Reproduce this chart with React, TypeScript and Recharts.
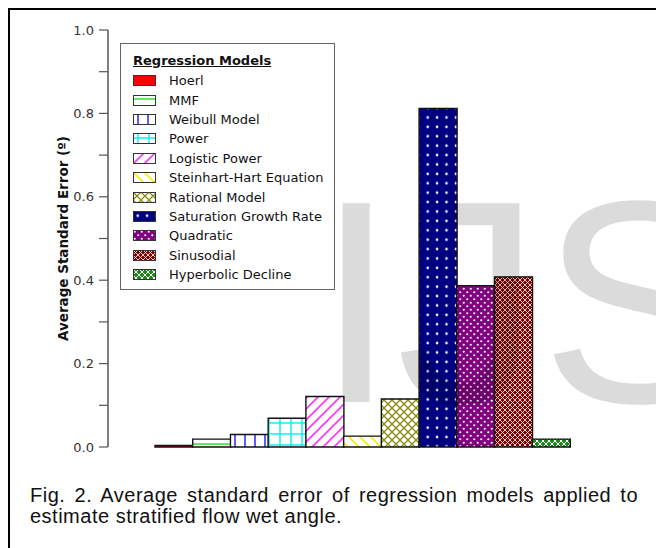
import React from "react";
import { BarChart, Bar, Cell, XAxis, YAxis, Legend } from "recharts";

// ─── Data ───────────────────────────────────────────────
const models = [
  "Hoerl",
  "MMF",
  "Weibull Model",
  "Power",
  "Logistic Power",
  "Steinhart-Hart Equation",
  "Rational Model",
  "Saturation Growth Rate",
  "Quadratic",
  "Sinusodial",
  "Hyperbolic Decline",
];
const avgStdError = [0.004, 0.019, 0.03, 0.069, 0.121, 0.026, 0.115, 0.812, 0.387, 0.408, 0.019];
const yTicks = [0, 0.1, 0.2, 0.3, 0.4, 0.5, 0.6, 0.7, 0.8, 0.9, 1.0];

const legendTitle = "Regression Models";
const yTitle = "Average Standard Error (º)";
const caption = "Fig. 2. Average standard error of regression models applied to estimate stratified flow wet angle.";

const data = models.map((name, i) => ({ name, value: avgStdError[i] }));

const FONT = "'DejaVu Sans', Verdana, sans-serif";
const SERIF_FREE = "'Liberation Sans', Arial, sans-serif";

// ─── Hatch patterns ─────────────────────────────────────
function Patterns() {
  return (
    <defs>
      <pattern id="p0" patternUnits="userSpaceOnUse" width="8" height="8">
        <rect width="8" height="8" fill="#ff0000" />
      </pattern>
      <pattern id="p1" patternUnits="userSpaceOnUse" width="8" height="8">
        <rect width="8" height="8" fill="#fff" />
        <line x1="0" y1="4" x2="8" y2="4" stroke="#33e833" strokeWidth="1.6" />
      </pattern>
      <pattern id="p2" patternUnits="userSpaceOnUse" width="10" height="10">
        <rect width="10" height="10" fill="#fff" />
        <line x1="5" y1="0" x2="5" y2="10" stroke="#3333ff" strokeWidth="1.6" />
      </pattern>
      <pattern id="p3" patternUnits="userSpaceOnUse" width="11" height="11">
        <rect width="11" height="11" fill="#fff" />
        <line x1="5" y1="0" x2="5" y2="11" stroke="#00f0f0" strokeWidth="1.4" />
        <line x1="0" y1="5" x2="11" y2="5" stroke="#00f0f0" strokeWidth="1.4" />
      </pattern>
      <pattern id="p4" patternUnits="userSpaceOnUse" width="11" height="11">
        <rect width="11" height="11" fill="#fff" />
        <path d="M-2,13 L13,-2 M-2,2 L2,-2 M9,13 L13,9" stroke="#ff33ff" strokeWidth="1.6" />
      </pattern>
      <pattern id="p5" patternUnits="userSpaceOnUse" width="11" height="11">
        <rect width="11" height="11" fill="#fff" />
        <path d="M-2,-2 L13,13 M9,-2 L13,2 M-2,9 L2,13" stroke="#f5f000" strokeWidth="1.6" />
      </pattern>
      <pattern id="p6" patternUnits="userSpaceOnUse" width="8" height="8">
        <rect width="8" height="8" fill="#fff" />
        <path d="M-1,9 L9,-1 M-1,-1 L9,9" stroke="#8a8a10" strokeWidth="1.3" />
      </pattern>
      <pattern id="p7" patternUnits="userSpaceOnUse" width="9.4" height="9.4">
        <rect width="9.4" height="9.4" fill="#000080" />
        <circle cx="4.7" cy="4.7" r="1.3" fill="#fff" />
      </pattern>
      <pattern id="p8" patternUnits="userSpaceOnUse" width="7" height="7">
        <rect width="7" height="7" fill="#800080" />
        <circle cx="1.75" cy="1.75" r="1.1" fill="#fff" />
        <circle cx="5.25" cy="5.25" r="1.1" fill="#fff" />
      </pattern>
      <pattern id="p9" patternUnits="userSpaceOnUse" width="5" height="5">
        <rect width="5" height="5" fill="#800000" />
        <path d="M-1,6 L6,-1 M-1,-1 L6,6" stroke="#fff" strokeWidth="0.8" />
      </pattern>
      <pattern id="p10" patternUnits="userSpaceOnUse" width="6" height="6">
        <rect width="6" height="6" fill="#1a8a1a" />
        <path d="M-1,7 L7,-1 M-1,-1 L7,7" stroke="#fff" strokeWidth="1" />
      </pattern>
    </defs>
  );
}

// ─── Legend box ─────────────────────────────────────────
function ModelsLegend() {
  return (
    <div
      style={{
        width: 215,
        height: 247,
        border: "1.5px solid #666",
        background: "#fff",
        fontFamily: FONT,
        fontSize: 13,
        color: "#111",
        boxSizing: "border-box",
        paddingLeft: 12,
        paddingTop: 7,
      }}
    >
      <div style={{ fontWeight: "bold", textDecoration: "underline", height: 20, lineHeight: "19px" }}>
        {legendTitle}
      </div>
      {models.map((m, i) => (
        <div key={m} style={{ display: "flex", alignItems: "center", height: 19.4 }}>
          <svg width={23} height={11} style={{ marginRight: 13 }}>
            <rect x={0.5} y={0.5} width={22} height={10} fill={`url(#p${i})`} stroke="#333" strokeWidth={1} />
          </svg>
          <span>{m}</span>
        </div>
      ))}
    </div>
  );
}

// ─── Rotated Y title ────────────────────────────────────
function YTitle(props: any) {
  const vb = props.viewBox || {};
  const cx = vb.x + 15;
  const cy = vb.y + vb.height / 2;
  return (
    <text
      x={cx}
      y={cy}
      transform={`rotate(-90, ${cx}, ${cy})`}
      textAnchor="middle"
      dominantBaseline="central"
      fontFamily={FONT}
      fontSize={13.5}
      fontWeight="bold"
      fill="#111"
    >
      {yTitle}
    </text>
  );
}

export default function App() {
  return (
    <div
      style={{
        position: "absolute",
        left: 0,
        top: 0,
        width: 656,
        height: 548,
        overflow: "hidden",
        background: "#fff",
      }}
    >
      <div
        style={{
          position: "absolute",
          left: 8,
          top: 8,
          width: 700,
          height: 600,
          border: "2px solid #000",
        }}
      />
      <div style={{ position: "absolute", left: 0, top: 0 }}>
        <BarChart
          width={656}
          height={548}
          data={data}
          margin={{ top: 30, right: 39, bottom: 101, left: 48 }}
          barCategoryGap={0}
          barGap={0}
        >
          <Patterns />
          <XAxis
            dataKey="name"
            height={0}
            tick={false}
            tickLine={false}
            axisLine={{ stroke: "#666", strokeWidth: 1.5 }}
            padding={{ left: 47, right: 47 }}
          />
          <XAxis
            xAxisId="top"
            orientation="top"
            dataKey="name"
            height={0}
            tick={false}
            tickLine={false}
            axisLine={{ stroke: "#777", strokeWidth: 1.5 }}
            padding={{ left: 47, right: 47 }}
          />
          <YAxis
            width={60}
            domain={[0, 1]}
            ticks={yTicks}
            interval={0}
            tickSize={9}
            tickMargin={5}
            tickFormatter={(v: number) => (Math.round(v * 10) % 2 === 0 ? v.toFixed(1) : "")}
            tick={{ fontFamily: FONT, fontSize: 13, fill: "#333" }}
            tickLine={{ stroke: "#555", strokeWidth: 1.2 }}
            axisLine={{ stroke: "#555", strokeWidth: 1.5 }}
            label={<YTitle />}
          />
          <YAxis
            yAxisId="right"
            orientation="right"
            width={0}
            domain={[0, 1]}
            tick={false}
            tickLine={false}
            axisLine={{ stroke: "#777", strokeWidth: 1.5 }}
          />
          <Legend
            layout="horizontal"
            verticalAlign="middle"
            align="center"
            content={() => <ModelsLegend />}
            wrapperStyle={{ left: 120, top: 43, width: 215, height: 247 }}
          />
          <Bar dataKey="value" stroke="#111" strokeWidth={1.4} isAnimationActive={false}>
            {data.map((d, i) => (
              <Cell key={d.name} fill={`url(#p${i})`} />
            ))}
          </Bar>
        </BarChart>
      </div>
      {/* watermark */}
      <svg
        width={656}
        height={548}
        style={{ position: "absolute", left: 0, top: 0, pointerEvents: "none" }}
      >
        <text x={316} y={402} fontFamily={SERIF_FREE} fontSize={289} fill="#000" fillOpacity={0.14}>
          IJSER
        </text>
      </svg>
      <div
        style={{
          position: "absolute",
          left: 30,
          top: 484.6,
          width: 608,
          fontFamily: SERIF_FREE,
          fontSize: 20,
          lineHeight: "21px",
          letterSpacing: 0.5,
          textAlign: "justify",
          color: "#111",
        }}
      >
        {caption}
      </div>
    </div>
  );
}
